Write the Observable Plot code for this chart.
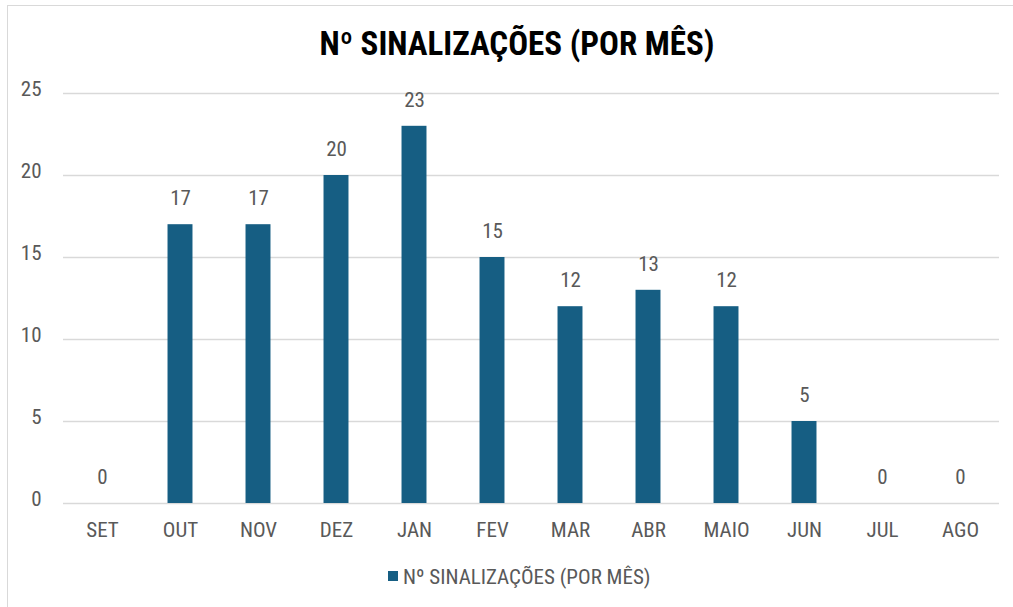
<!DOCTYPE html>
<html>
<head>
<meta charset="utf-8">
<script src="https://cdn.jsdelivr.net/npm/d3@7"></script>
<script src="https://cdn.jsdelivr.net/npm/@observablehq/plot@0.6"></script>
<style>
  html, body { margin: 0; padding: 0; background: #fff; }
  body { width: 1013px; height: 607px; position: relative; overflow: hidden;
         font-family: 'Roboto Condensed', 'Liberation Sans Narrow', sans-serif; }
  #frame { position: absolute; left: 7px; top: 5px; width: 1010px; height: 610px;
           border-left: 1px solid #d9d9d9; border-top: 1px solid #d9d9d9; box-sizing: border-box; }
  #title { position: absolute; left: 0; top: 0; width: 1013px; height: 75px; }
  #title div { position: absolute; left: 0; width: 1034px; top: 25px; text-align: center;
               font-size: 33px; font-weight: bold; color: #000; line-height: 38px; }
  #chart { position: absolute; left: 0; top: 75px; }
  #legend { position: absolute; left: 0; top: 560px; width: 1013px; height: 40px; }
  #legend .sw { position: absolute; left: 388px; top: 11px; width: 10px; height: 10px; background: #165E83; }
  #legend .lb { position: absolute; left: 403px; top: 4px; font-size: 21px; color: #595959; line-height: 26px; }
</style>
</head>
<body>
<div id="frame"></div>
<div id="title"><div>Nº SINALIZAÇÕES (POR MÊS)</div></div>
<div id="chart"></div>
<div id="legend"><span class="sw"></span><span class="lb">Nº SINALIZAÇÕES (POR MÊS)</span></div>
<script>
const months = ["SET","OUT","NOV","DEZ","JAN","FEV","MAR","ABR","MAIO","JUN","JUL","AGO"];
const counts = [0,17,17,20,23,15,12,13,12,5,0,0];
const yTicks = [0,5,10,15,20,25];
const seriesName = "Nº SINALIZAÇÕES (POR MÊS)";

const data = months.map((m, i) => ({month: m, value: counts[i]}));
const font = "'Roboto Condensed', 'Liberation Sans Narrow', sans-serif";

const chart = Plot.plot({
  width: 1013,
  height: 485,
  marginTop: 18,
  marginBottom: 57,
  marginLeft: 63,
  marginRight: 14,
  style: {fontFamily: font, fontSize: "21px", color: "#595959", background: "transparent"},
  x: {domain: months, paddingInner: 0.68, paddingOuter: 0.34, round: false, label: null},
  y: {domain: [0, 25], label: null},
  marks: [
    Plot.gridY(yTicks, {stroke: "#d9d9d9", strokeOpacity: 1, strokeWidth: 1.5}),
    Plot.axisY(yTicks, {tickSize: 0, tickPadding: 22, dy: -4, fill: "#595959", fontSize: 21}),
    Plot.axisX({tickSize: 0, tickPadding: 19, fill: "#595959", fontSize: 21}),
    Plot.barY(data, {x: "month", y: "value", fill: "#165E83"}),
    Plot.text(data, {x: "month", y: "value", text: d => String(d.value), dy: -26, fill: "#595959", fontSize: 21})
  ]
});
document.getElementById("chart").appendChild(chart);
</script>
</body>
</html>
